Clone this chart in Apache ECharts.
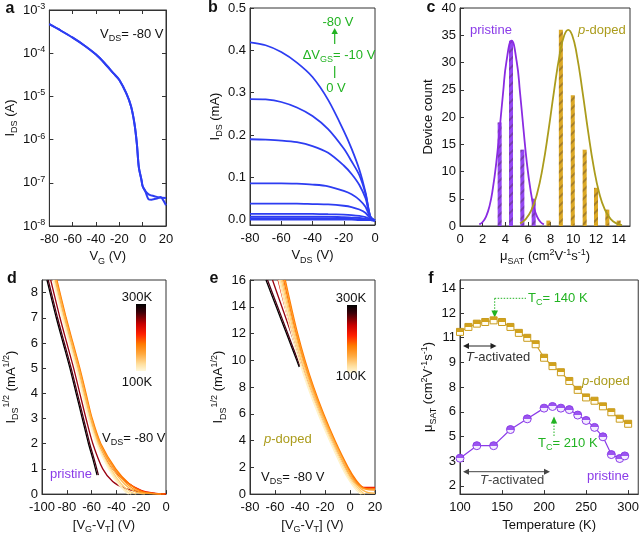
<!DOCTYPE html>
<html><head><meta charset="utf-8">
<script src="https://cdn.jsdelivr.net/npm/echarts@6/dist/echarts.min.js"></script>
<style>html,body{margin:0;padding:0;background:#fff}#c{width:642px;height:535px}</style>
</head><body><div id="c"></div><script>
// ---------------- DATA ----------------
// panel a : transfer curve (log)
const aVG      = [-80,-70,-60,-50,-40,-33,-25,-20,-14,-10,-7,-5,-3.3,-1,0,2];
const aIds     = [4.68e-4,3.31e-4,2.29e-4,1.51e-4,9.3e-5,6.0e-5,3.4e-5,2.4e-5,1.17e-5,5.9e-6,2.3e-6,8.1e-7,2.3e-7,1.15e-7,8.3e-8,6.6e-8];
const aVGFwd   = [4,6,10,14,20];
const aIdsFwd  = [5.75e-8,5.25e-8,4.9e-8,4.57e-8,4.47e-8];
const aVGRev   = [3,5,7.5,12.8,15.4,17.6,20];
const aIdsRev  = [5.6e-8,4.17e-8,4.07e-8,4.37e-8,4.68e-8,3.98e-8,3.02e-8];
const aXTicks  = [-80,-60,-40,-20,0,20];
// panel b : output curves (mA)
const bVDS = [-80,-70,-60,-50,-40,-30,-20,-15,-10,-6,-3,0];
const bI80 = [0.419,0.412,0.396,0.371,0.337,0.283,0.210,0.168,0.118,0.063,0.008,-0.002];
const bI70 = [0.285,0.284,0.278,0.265,0.245,0.214,0.168,0.138,0.105,0.060,0.008,-0.002];
const bI60 = [0.190,0.189,0.187,0.183,0.174,0.158,0.128,0.108,0.082,0.050,0.007,-0.002];
const bI50 = [0.086,0.086,0.086,0.085,0.083,0.079,0.068,0.060,0.047,0.030,0.005,-0.002];
const bI40 = [0.038,0.038,0.038,0.038,0.037,0.036,0.033,0.030,0.024,0.016,0.003,-0.002];
const bI30 = [0.014,0.014,0.014,0.014,0.014,0.013,0.012,0.011,0.009,0.006,0.001,-0.002];
const bI20 = [0.007,0.007,0.007,0.007,0.007,0.007,0.006,0.005,0.004,0.002,0.000,-0.002];
const bI10 = [0.003,0.003,0.003,0.003,0.003,0.003,0.002,0.002,0.001,0.000,-0.001,-0.002];
const bI00 = [0.000,0.000,0.000,0.000,0.000,0.000,0.000,0.000,-0.001,-0.001,-0.001,-0.002];
const bXTicks = [-80,-60,-40,-20,0];
const bYTicks = [0,0.1,0.2,0.3,0.4,0.5];
// panel c : histogram + gaussian fits
const cPriX = [3.5,4.5,5.5,6.5];
const cPriN = [19,34,14,5];
const cDopX = [7.8,8.9,9.95,11,12,13,14];
const cDopN = [1,36,24,14,7,3,1];
const cPriFitX = [1.7,2.0,2.3,2.6,2.9,3.2,3.5,3.8,4.1,4.55,5.0,5.3,5.6,5.9,6.2,6.5,6.8,7.1,7.4];
const cPriFitY = [0.29,0.74,1.73,3.6,6.9,11.6,17.8,24.4,30.2,34,30.2,24.4,17.8,11.6,6.9,3.6,1.73,0.74,0.29];
const cDopFitX = [5.3,5.8,6.3,6.8,7.3,7.8,8.3,8.8,9.2,9.55,9.9,10.3,10.8,11.3,11.8,12.3,12.8,13.3,13.8,14.3];
const cDopFitY = [0.49,1.27,2.9,5.9,10.8,17.4,24.8,31.5,35.0,36,35.0,31.5,24.8,17.4,10.8,5.9,2.9,1.27,0.49,0.17];
const cXTicks = [0,2,4,6,8,10,12,14];
const cYTicks = [0,5,10,15,20,25,30,35,40];
// panel d : pristine sqrt(I) vs VG-VT, one curve per temperature
const dTemps = [300,280,260,240,220,200,180,160,140,120,100];
const d300 = [[-96,8.5],[-88.5,7],[-83,6],[-77.5,5],[-72.5,4],[-67.5,3],[-62.5,2],[-59,1.4],[-55.6,0.75]];
const d280 = [[-95,8.5],[-87.5,7],[-82,6],[-76.5,5],[-71.5,4],[-66.5,3],[-61.5,2],[-58,1.4],[-54.5,0.75]];
const d260 = [[-93,8.5],[-85.5,7],[-80,6],[-74.5,5],[-69.5,4],[-64.5,3],[-59,2],[-51,1],[-43,0.5],[-34,0.25],[-22,0.1],[-10,0.03],[0,0]];
const d240 = [[-90,8.5],[-82.5,7],[-77,6],[-71.5,5],[-66.5,4],[-61.5,3],[-55,2],[-43,1],[-31,0.45],[-20,0.15],[-10,0.04],[0,0.01]];
const d220 = [[-89,8.5],[-81.5,7],[-76,6],[-70.5,5],[-65.5,4],[-60.5,3],[-53.5,2],[-41.5,1],[-30,0.42],[-19.5,0.12],[-9,0.03],[0,0]];
const d200 = [[-88,8.5],[-80.5,7],[-75,6],[-69.5,5],[-64.5,4],[-59.5,3],[-52.5,2],[-40.5,1],[-29.5,0.4],[-19.5,0.1],[-9,0.02],[-1,0]];
const d180 = [[-88.5,8.5],[-81,7],[-75.5,6],[-70,5],[-65,4],[-60,3],[-53,2],[-41.5,1],[-31.5,0.4],[-22,0.1],[-12,0.02],[-4,0]];
const d160 = [[-89,8.5],[-81.5,7],[-76,6],[-70.5,5],[-65.5,4],[-60.5,3],[-54,2],[-43,1],[-33.5,0.4],[-25,0.1],[-17,0]];
const d140 = [[-90,8.5],[-82.5,7],[-77,6],[-71.5,5],[-66.5,4],[-61.5,3],[-55,2],[-44.5,1],[-36,0.4],[-29,0.1],[-24,0]];
const d120 = [[-90.5,8.5],[-83,7],[-77.5,6],[-72,5],[-67,4],[-62,3],[-55.5,2],[-45.5,1],[-37.5,0.4],[-31.5,0.1],[-28,0]];
const d100 = [[-91,8.5],[-83.5,7],[-78,6],[-72.5,5],[-67.5,4],[-62.5,3],[-56,2],[-46.3,1],[-38.5,0.4],[-32.5,0.08],[-30,0]];
const dXTicks = [-100,-80,-60,-40,-20,0];
const dYTicks = [0,1,2,3,4,5,6,7,8];
// panel e : p-doped
const e300 = [[-67.2,16],[-59,14],[-50.8,12],[-42.6,10],[-40.6,9.5]];
const e280 = [[-66,16],[-57.9,14],[-49.8,12],[-41.7,10],[-40,9.6]];
const e260 = [[-62,16],[-54.5,14],[-47,12],[-40,10],[-39,9.7]];
const e240 = [[-57.5,16],[-52,14],[-46,12],[-39.5,10],[-32,8],[-23.6,6],[-14.3,4],[-3.8,2],[3,1],[9,0.55],[12,0.5],[20,0.5]];
const e220 = [[-53,16],[-48.2,14],[-43.1,12],[-37.2,10],[-30.3,8],[-22.2,6],[-13,4],[-2.5,2],[4.2,1],[9.5,0.55],[13,0.45],[20,0.45]];
const e200 = [[-51.8,16],[-47,14],[-41.9,12],[-36,10],[-29.1,8],[-21.1,6],[-12,4],[-1.5,2],[5.2,1],[10.2,0.5],[14,0.4],[20,0.38]];
const e180 = [[-52.5,16],[-47.7,14],[-42.6,12],[-36.7,10],[-29.8,8],[-21.8,6],[-12.8,4],[-2.5,2],[3.8,1],[9,0.5],[13,0.35],[20,0.3]];
const e160 = [[-54,16],[-49,14],[-43.8,12],[-37.8,10],[-30.8,8],[-22.6,6],[-13.4,4],[-3.2,2],[2.8,1],[8,0.45],[12,0.2],[15,0.1],[20,0.08]];
const e140 = [[-55,16],[-50,14],[-44.8,12],[-38.8,10],[-31.8,8],[-23.6,6],[-14.4,4],[-4.3,2],[1.6,1],[7,0.4],[10,0.12],[12,0]];
const e120 = [[-56,16],[-51,14],[-45.8,12],[-39.8,10],[-32.8,8],[-24.6,6],[-15.4,4],[-5.4,2],[0.5,1],[6,0.35],[9,0.08],[10,0]];
const e100 = [[-57,16],[-52,14],[-46.8,12],[-40.8,10],[-33.8,8],[-25.6,6],[-16.4,4],[-6.5,2],[-0.5,1],[5,0.3],[8,0.05],[9,0]];
const eXTicks = [-80,-60,-40,-20,0,20];
const eYTicks = [0,2,4,6,8,10,12,14,16];
// panel f : mobility vs temperature
const fTdop = [100,110,120,130,140,150,160,170,180,190,200,210,220,230,240,250,260,270,280,290,300];
const fMuDop = [11.35,11.65,11.85,11.95,12.05,11.95,11.65,11.29,10.99,10.6,9.78,9.27,8.9,8.37,7.83,7.37,7.17,6.83,6.47,6.08,5.77];
const fTpri = [100,120,140,160,180,200,210,220,230,240,250,260,270,280,290,296];
const fMuPri = [3.68,4.44,4.44,5.42,6.07,6.72,6.82,6.72,6.63,6.3,5.97,5.55,4.98,3.9,3.66,3.82];
const fXTicks = [100,150,200,250,300];
const fYTicks = [2,3.5,5,6.5,8,9.5,11,12.5,14];
const fYTickLabels = ['2','3','5','6','8','9','11','12','14'];

// ---------------- STYLE ----------------
const FONT = '"Liberation Sans", Arial, sans-serif';
const BLUE = '#2d3df2', GREEN = '#22b322', PURPLE = '#8a3be8', GOLD = '#dba825', OLIVE = '#ab9c1c';
const FGOLD = '#cfa22c';
const tempColors = {300:'#000000',280:'#4a0012',260:'#9a0010',240:'#e81000',220:'#ff4400',200:'#ff7a00',180:'#ff9a22',160:'#ffb84c',140:'#ffd078',120:'#ffe4a6',100:'#fff2c8'};
const rich = {
  sub: {fontSize: 9, lineHeight: 9, verticalAlign: 'bottom', fontFamily: FONT},
  sup: {fontSize: 9, lineHeight: 9, verticalAlign: 'top', fontFamily: FONT},
  i: {fontStyle: 'italic', fontFamily: FONT}
};
const zip = (xs, ys) => xs.map((x, i) => [x, ys[i]]);

const grids = [], xAxes = [], yAxes = [], series = [];
function addGrid(l, t, w, h) {
  grids.push({left: l, top: t, width: w, height: h, show: true, borderColor: '#333', borderWidth: 1, backgroundColor: 'transparent'});
  return grids.length - 1;
}
function axis(gi, o) {
  const a = {
    gridIndex: gi, type: o.type || 'value', min: o.min, max: o.max,
    position: o.position, name: o.name || '', nameLocation: 'middle', nameGap: o.nameGap,
    nameTextStyle: {color: '#111', fontSize: 13, fontFamily: FONT, lineHeight: 18, rich},
    axisLine: {show: true, onZero: false, lineStyle: {color: '#333', width: 1}},
    axisTick: {show: true, inside: true, length: 4, lineStyle: {color: '#333'}},
    axisLabel: {show: o.labels !== false, color: '#111', fontSize: 13, fontFamily: FONT, margin: o.margin || 5, formatter: o.formatter, rich: {sup: {fontSize: 9, verticalAlign: 'top', lineHeight: 9, fontFamily: FONT}}, lineHeight: 16},
    splitLine: {show: false}
  };
  if (o.ticks) { a.axisTick.customValues = o.ticks; a.axisLabel.customValues = o.ticks; }
  if (o.type === 'log') { a.logBase = 10; a.splitNumber = 5; }
  return a;
}
function addX(gi, o) { xAxes.push(axis(gi, o)); return xAxes.length - 1; }
function addY(gi, o) { yAxes.push(axis(gi, o)); return yAxes.length - 1; }
function line(xi, yi, data, color, width, smooth) {
  series.push({type: 'line', xAxisIndex: xi, yAxisIndex: yi, data, showSymbol: false, symbol: 'none',
    smooth: smooth === undefined ? 0.3 : smooth,
    lineStyle: {color, width}, itemStyle: {color}, silent: true, animation: false, clip: true});
}

// ---- panel a
let g = addGrid(41, 10, 125, 216);
let xi = addX(g, {min: -80, max: 20, ticks: aXTicks, name: 'V{sub|G} (V)', nameGap: 19});
let yi = addY(g, {type: 'log', min: 1e-8, max: 1e-3, name: 'I{sub|DS} (A)', nameGap: 27, margin: 4,
  formatter: v => '10{sup|' + Math.round(Math.log10(v)) + '}'});
addX(g, {min: -80, max: 20, ticks: aXTicks, position: 'top', labels: false});
addY(g, {type: 'log', min: 1e-8, max: 1e-3, position: 'right', labels: false});
line(xi, yi, zip(aVG.concat(aVGFwd), aIds.concat(aIdsFwd)), BLUE, 2);
line(xi, yi, zip(aVG.concat(aVGRev), aIds.concat(aIdsRev)), BLUE, 2);

// ---- panel b
g = addGrid(250, 6, 125, 219);
xi = addX(g, {min: -80, max: 0, ticks: bXTicks, name: 'V{sub|DS} (V)', nameGap: 21});
yi = addY(g, {min: -0.0125, max: 0.5, ticks: bYTicks, name: 'I{sub|DS} (mA)', nameGap: 24, margin: 4, formatter: v => v.toFixed(1)});
[bI80, bI70, bI60, bI50, bI40, bI30, bI20, bI10, bI00].forEach(c => line(xi, yi, zip(bVDS, c), BLUE, 1.8));

// ---- panel c
g = addGrid(460, 8, 170, 218);
xi = addX(g, {min: 0, max: 15, ticks: cXTicks, name: 'μ{sub|SAT} (cm{sup|2}V{sup|-1}s{sup|-1})', nameGap: 19});
yi = addY(g, {min: 0, max: 40, ticks: cYTicks, name: 'Device count', nameGap: 19, margin: 4});
const hatch = {symbol: 'rect', symbolSize: 1, color: 'rgba(60,40,40,0.32)', dashArrayX: [1, 0], dashArrayY: [1.2, 4], rotation: -Math.PI / 4};
series.push({type: 'bar', xAxisIndex: xi, yAxisIndex: yi, data: zip(cPriX, cPriN), barWidth: 4, barGap: '-100%', silent: true, animation: false,
  itemStyle: {color: '#9447f2', decal: hatch}});
series.push({type: 'bar', xAxisIndex: xi, yAxisIndex: yi, data: zip(cDopX, cDopN), barWidth: 4, barGap: '-100%', silent: true, animation: false,
  itemStyle: {color: GOLD, decal: hatch}});
line(xi, yi, zip(cPriFitX, cPriFitY), '#8a2be2', 1.8, 0.5);
line(xi, yi, zip(cDopFitX, cDopFitY), OLIVE, 1.8, 0.5);

// ---- panel d
g = addGrid(42, 280, 124, 217);
xi = addX(g, {min: -100, max: 0, ticks: dXTicks, name: '[V{sub|G}-V{sub|T}] (V)', nameGap: 15});
yi = addY(g, {min: 0, max: 8.5, ticks: dYTicks, name: 'I{sub|DS}{sup|1/2} (mA{sup|1/2})', nameGap: 22, margin: 4});
[d300, d280, d260, d240, d220, d200, d180, d160, d140, d120, d100].forEach((c, i) => line(xi, yi, c, tempColors[dTemps[i]], 1.3));

// ---- panel e
g = addGrid(250, 280, 125, 217);
xi = addX(g, {min: -80, max: 20, ticks: eXTicks, name: '[V{sub|G}-V{sub|T}] (V)', nameGap: 15});
yi = addY(g, {min: 0, max: 16, ticks: eYTicks, name: 'I{sub|DS}{sup|1/2} (mA{sup|1/2})', nameGap: 16, margin: 4});
[e300, e280, e260, e240, e220, e200, e180, e160, e140, e120, e100].forEach((c, i) => line(xi, yi, c, tempColors[dTemps[i]], 1.3));

// ---- panel f
g = addGrid(460, 280, 179, 217);
xi = addX(g, {min: 100, max: 312, ticks: fXTicks, name: 'Temperature (K)', nameGap: 17});
yi = addY(g, {min: 1.5, max: 14.5, ticks: fYTicks, name: 'μ{sub|SAT} (cm{sup|2}V{sup|-1}s{sup|-1})', nameGap: 13, margin: 4,
  formatter: v => fYTickLabels[fYTicks.indexOf(v)] ?? ''});
const half = (top, bot) => new echarts.graphic.LinearGradient(0, 0, 0, 1, [{offset: 0, color: top}, {offset: 0.5, color: top}, {offset: 0.5, color: bot}, {offset: 1, color: bot}]);
series.push({type: 'line', xAxisIndex: xi, yAxisIndex: yi, data: zip(fTdop, fMuDop), symbol: 'rect', symbolSize: 7, showSymbol: true,
  lineStyle: {color: FGOLD, width: 1.2}, itemStyle: {color: half('#d2a21c', '#fffdf2'), borderColor: '#c99c1e', borderWidth: 1}, silent: true, animation: false});
series.push({type: 'line', xAxisIndex: xi, yAxisIndex: yi, data: zip(fTpri, fMuPri), symbol: 'circle', symbolSize: 8, showSymbol: true,
  lineStyle: {color: PURPLE, width: 1.2}, itemStyle: {color: half('#9b55f0', '#f3ecff'), borderColor: PURPLE, borderWidth: 1}, silent: true, animation: false});

// ---------------- ANNOTATIONS ----------------
function txt(x, y, text, fill, o) {
  o = o || {};
  return {type: 'text', x, y, silent: true, style: {text, fill, fontSize: o.size || 13, fontFamily: FONT, fontWeight: o.bold ? 'bold' : 'normal',
    align: o.align || 'left', verticalAlign: 'middle', lineHeight: 18, rich: {
      sub: {fontSize: 9, lineHeight: 9, verticalAlign: 'bottom', fill, fontFamily: FONT},
      i: {fontStyle: 'italic', fill, fontSize: o.size || 13, fontFamily: FONT}}}};
}
function seg(x1, y1, x2, y2, stroke, dash, w) {
  return {type: 'line', silent: true, shape: {x1, y1, x2, y2}, style: {stroke, lineWidth: w || 1, lineDash: dash || null}};
}
function tri(points, fill) { return {type: 'polygon', silent: true, shape: {points}, style: {fill}}; }
function cbar(x, y, w, h) {
  return {type: 'rect', silent: true, shape: {x, y, width: w, height: h}, style: {fill: new echarts.graphic.LinearGradient(0, 0, 0, 1, [
    {offset: 0, color: '#000'}, {offset: 0.12, color: '#3a0008'}, {offset: 0.3, color: '#c80000'}, {offset: 0.45, color: '#ff2000'},
    {offset: 0.6, color: '#ff7a00'}, {offset: 0.75, color: '#ffaa40'}, {offset: 0.9, color: '#ffe0a0'}, {offset: 1, color: '#fff8dc'}])}};
}
const graphics = [
  txt(10, 9, 'a', '#111', {bold: true, size: 16, align: 'center'}),
  txt(213, 8, 'b', '#111', {bold: true, size: 16, align: 'center'}),
  txt(431, 8, 'c', '#111', {bold: true, size: 16, align: 'center'}),
  txt(12, 279, 'd', '#111', {bold: true, size: 16, align: 'center'}),
  txt(214, 279, 'e', '#111', {bold: true, size: 16, align: 'center'}),
  txt(431, 279, 'f', '#111', {bold: true, size: 16, align: 'center'}),
  // a
  txt(100, 34, 'V{sub|DS}= -80 V', '#111'),
  // b
  txt(338, 22, '-80 V', GREEN, {align: 'center'}),
  seg(334.7, 44, 334.7, 33, GREEN, null, 1.2), tri([[331.5, 34], [337.9, 34], [334.7, 28]], GREEN),
  txt(339, 55, 'ΔV{sub|GS}= -10 V', GREEN, {align: 'center'}),
  seg(334.7, 66, 334.7, 78, GREEN, null, 1.2),
  txt(336, 88, '0 V', GREEN, {align: 'center'}),
  // c
  txt(470, 30, 'pristine', PURPLE),
  txt(578, 30, '{i|p}-doped', OLIVE),
  // d
  cbar(136, 304, 10, 67),
  txt(137, 297, '300K', '#111', {align: 'center'}),
  txt(137, 382, '100K', '#111', {align: 'center'}),
  txt(102, 438, 'V{sub|DS}= -80 V', '#111'),
  txt(50, 474, 'pristine', PURPLE),
  // e
  cbar(347, 305, 10, 68),
  txt(351, 298, '300K', '#111', {align: 'center'}),
  txt(351, 376, '100K', '#111', {align: 'center'}),
  txt(264, 439, '{i|p}-doped', OLIVE),
  txt(261, 477, 'V{sub|DS}= -80 V', '#111'),
  // f
  txt(528, 298, 'T{sub|C}= 140 K', GREEN),
  seg(494.7, 298.3, 526, 298.3, GREEN, [1.5, 1.5]),
  seg(494.7, 298.3, 494.7, 311, GREEN, [1.5, 1.5]),
  tri([[491.4, 310.5], [498, 310.5], [494.7, 317.5]], GREEN),
  txt(538, 443, 'T{sub|C}= 210 K', GREEN),
  seg(554, 436, 554, 423, GREEN, [1.5, 1.5]),
  tri([[550.8, 423.5], [557.2, 423.5], [554, 416.5]], GREEN),
  seg(467, 346, 492, 346, '#222'),
  tri([[463, 346], [469, 343], [469, 349]], '#222'), tri([[496.5, 346], [490.5, 343], [490.5, 349]], '#222'),
  txt(466, 357, '{i|T}-activated', '#333'),
  seg(467, 471.7, 546, 471.7, '#444'),
  tri([[463, 471.7], [469, 468.7], [469, 474.7]], '#444'), tri([[550, 471.7], [544, 468.7], [544, 474.7]], '#444'),
  txt(480, 480, '{i|T}-activated', '#444'),
  txt(582, 381, '{i|p}-doped', OLIVE),
  txt(587, 476, 'pristine', PURPLE)
];

const chart = echarts.init(document.getElementById('c'), null, {renderer: 'canvas'});
chart.setOption({
  animation: false,
  grid: grids, xAxis: xAxes, yAxis: yAxes, series,
  graphic: graphics
});
</script></body></html>
